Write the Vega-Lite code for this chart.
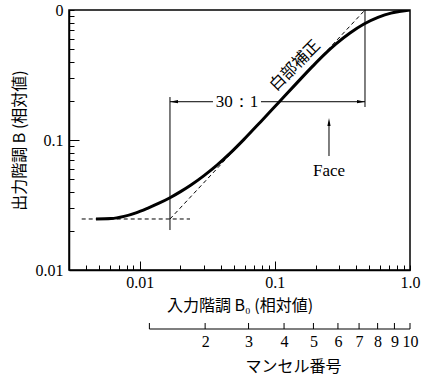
{
  "$schema": "https://vega.github.io/schema/vega-lite/v6.json",
  "padding": {"left": 10, "top": 1, "right": 5, "bottom": 3},
  "background": "white",
  "spacing": 49,
  "bounds": "flush",
  "config": {
    "font": "Liberation Serif",
    "axis": {"grid": false, "domainColor": "black", "tickColor": "black", "labelColor": "black", "titleColor": "black", "titleFontWeight": "normal"}
  },
  "datasets": {
    "curve": [
      {"x": 0.004751, "y": 0.024683},
      {"x": 0.006135, "y": 0.02486},
      {"x": 0.007656, "y": 0.025848},
      {"x": 0.009393, "y": 0.027542},
      {"x": 0.011525, "y": 0.02998},
      {"x": 0.013897, "y": 0.032643},
      {"x": 0.016758, "y": 0.035986},
      {"x": 0.02021, "y": 0.040237},
      {"x": 0.023968, "y": 0.045057},
      {"x": 0.029913, "y": 0.053226},
      {"x": 0.037328, "y": 0.064101},
      {"x": 0.047378, "y": 0.080278},
      {"x": 0.059124, "y": 0.10106},
      {"x": 0.078997, "y": 0.13899},
      {"x": 0.10553, "y": 0.19192},
      {"x": 0.14339, "y": 0.27013},
      {"x": 0.19157, "y": 0.37154},
      {"x": 0.23497, "y": 0.45951},
      {"x": 0.28355, "y": 0.54854},
      {"x": 0.35981, "y": 0.66527},
      {"x": 0.45666, "y": 0.78027},
      {"x": 0.57986, "y": 0.87701},
      {"x": 0.72344, "y": 0.94661},
      {"x": 0.85789, "y": 0.97904},
      {"x": 1.0, "y": 1.0}
    ],
    "dashes": [
      {"seg": "flat", "x": 0.003724, "y": 0.024683},
      {"seg": "flat", "x": 0.02357, "y": 0.024683},
      {"seg": "slope", "x": 0.016758, "y": 0.024683},
      {"seg": "slope", "x": 0.4645, "y": 1.0}
    ],
    "vlines": [
      {"x": 0.016758, "y": 0.0203, "y2": 0.214},
      {"x": 0.4645, "y": 0.1794, "y2": 1.0},
      {"x": 0.2516, "y": 0.0753, "y2": 0.136}
    ],
    "hlines": [
      {"x": 0.016758, "x2": 0.03487, "y": 0.197},
      {"x": 0.079, "x2": 0.4645, "y": 0.197}
    ],
    "arrows": [
      {"dir": "left", "x": 0.01794, "y": 0.197},
      {"dir": "right", "x": 0.434, "y": 0.197},
      {"dir": "up", "x": 0.2516, "y": 0.1376}
    ],
    "labels": [
      {"x": 0.05248, "y": 0.197, "text": "30：1"},
      {"x": 0.2516, "y": 0.0577, "text": "Face"}
    ],
    "diag": [
      {"x": 0.141, "y": 0.374, "text": "白部補正"}
    ],
    "munsell": [
      {"v": 1, "r": 0.0118},
      {"v": 2, "r": 0.0305},
      {"v": 3, "r": 0.0639},
      {"v": 4, "r": 0.117},
      {"v": 5, "r": 0.193},
      {"v": 6, "r": 0.293},
      {"v": 7, "r": 0.42},
      {"v": 8, "r": 0.576},
      {"v": 9, "r": 0.767},
      {"v": 10, "r": 1.0}
    ],
    "mline": [
      {"r0": 0.0118, "r1": 1.0}
    ]
  },
  "vconcat": [
    {
      "width": 341,
      "height": 260,
      "view": {"stroke": "black", "strokeWidth": 1.5},
      "resolve": {"axis": {"x": "independent", "y": "independent"}},
      "layer": [
        {
          "data": {"name": "curve"},
          "mark": {"type": "line", "color": "black", "strokeWidth": 3, "interpolate": "monotone", "clip": true},
          "encoding": {
            "x": {"field": "x", "type": "quantitative",
              "scale": {"type": "log", "domain": [0.003, 1], "nice": false},
              "axis": {
                "orient": "bottom",
                "values": [0.004, 0.005, 0.006, 0.007, 0.008, 0.009, 0.01, 0.02, 0.03, 0.04, 0.05, 0.06, 0.07, 0.08, 0.09, 0.1, 0.2, 0.3, 0.4, 0.5, 0.6, 0.7, 0.8, 0.9, 1],
                "labelExpr": "datum.value == 1 ? '1.0' : datum.value == 0.1 ? '0.1' : datum.value == 0.01 ? '0.01' : ''",
                "tickSize": -5, "tickWidth": 1, "labelPadding": 9, "labelFontSize": 16, "labelFont": "Liberation Serif",
                "labelFlush": false, "labelOverlap": false, "domainWidth": 1.5,
                "title": "入力階調  B₀ (相対値)", "titleFont": "Noto Sans CJK JP", "titleFontSize": 16, "titlePadding": 7
              }},
            "y": {"field": "y", "type": "quantitative",
              "scale": {"type": "log", "domain": [0.01, 1], "nice": false},
              "axis": {
                "orient": "left",
                "values": [0.01, 0.02, 0.03, 0.04, 0.05, 0.06, 0.07, 0.08, 0.09, 0.1, 0.2, 0.3, 0.4, 0.5, 0.6, 0.7, 0.8, 0.9, 1],
                "labelExpr": "datum.value == 1 ? '0' : datum.value == 0.1 ? '0.1' : datum.value == 0.01 ? '0.01' : ''",
                "tickSize": -5, "tickWidth": 1, "labelPadding": 11, "labelFontSize": 16, "labelFont": "Liberation Serif",
                "labelFlush": false, "labelOverlap": false, "domainWidth": 1.5,
                "title": "出力階調  B (相対値)", "titleFont": "Noto Sans CJK JP", "titleFontSize": 16, "titlePadding": 8
              }}
          }
        },
        {
          "data": {"name": "dashes"},
          "mark": {"type": "line", "color": "black", "strokeWidth": 1, "strokeDash": [4, 3]},
          "encoding": {
            "x": {"field": "x", "type": "quantitative",
              "axis": {"orient": "bottom", "values": [0.01, 0.1], "tickSize": -9, "tickWidth": 1, "labels": false, "domain": false, "title": null}},
            "y": {"field": "y", "type": "quantitative",
              "axis": {"orient": "left", "values": [0.1], "tickSize": -10, "tickWidth": 1, "labels": false, "domain": false, "title": null}},
            "detail": {"field": "seg"}
          }
        },
        {
          "data": {"name": "vlines"},
          "mark": {"type": "rule", "color": "black", "strokeWidth": 1},
          "encoding": {
            "x": {"field": "x", "type": "quantitative", "axis": null},
            "y": {"field": "y", "type": "quantitative", "axis": null},
            "y2": {"field": "y2"}
          }
        },
        {
          "data": {"name": "hlines"},
          "mark": {"type": "rule", "color": "black", "strokeWidth": 1},
          "encoding": {
            "x": {"field": "x", "type": "quantitative", "axis": null},
            "x2": {"field": "x2"},
            "y": {"field": "y", "type": "quantitative", "axis": null}
          }
        },
        {
          "data": {"name": "arrows"},
          "transform": [{"filter": "datum.dir == 'left'"}],
          "mark": {"type": "point", "shape": "M-1,0L1,-0.4L1,0.4Z", "filled": true, "color": "black", "size": 64, "opacity": 1},
          "encoding": {
            "x": {"field": "x", "type": "quantitative", "axis": null},
            "y": {"field": "y", "type": "quantitative", "axis": null}
          }
        },
        {
          "data": {"name": "arrows"},
          "transform": [{"filter": "datum.dir == 'right'"}],
          "mark": {"type": "point", "shape": "M1,0L-1,-0.4L-1,0.4Z", "filled": true, "color": "black", "size": 64, "opacity": 1},
          "encoding": {
            "x": {"field": "x", "type": "quantitative", "axis": null},
            "y": {"field": "y", "type": "quantitative", "axis": null}
          }
        },
        {
          "data": {"name": "arrows"},
          "transform": [{"filter": "datum.dir == 'up'"}],
          "mark": {"type": "point", "shape": "M0,-1L-0.4,1L0.4,1Z", "filled": true, "color": "black", "size": 64, "opacity": 1},
          "encoding": {
            "x": {"field": "x", "type": "quantitative", "axis": null},
            "y": {"field": "y", "type": "quantitative", "axis": null}
          }
        },
        {
          "data": {"name": "labels"},
          "mark": {"type": "text", "color": "black", "font": "Liberation Serif", "fontSize": 17, "align": "center", "baseline": "middle"},
          "encoding": {
            "x": {"field": "x", "type": "quantitative", "axis": null},
            "y": {"field": "y", "type": "quantitative", "axis": null},
            "text": {"field": "text"}
          }
        },
        {
          "data": {"name": "diag"},
          "mark": {"type": "text", "color": "black", "font": "Noto Sans CJK JP", "fontSize": 16, "angle": -45, "align": "center", "baseline": "middle"},
          "encoding": {
            "x": {"field": "x", "type": "quantitative", "axis": null},
            "y": {"field": "y", "type": "quantitative", "axis": null},
            "text": {"field": "text"}
          }
        }
      ]
    },
    {
      "width": 341,
      "height": 10,
      "view": {"stroke": null},
      "layer": [
        {
          "data": {"name": "munsell"},
          "mark": {"type": "rule", "color": "black", "strokeWidth": 1},
          "encoding": {
            "x": {"field": "r", "type": "quantitative",
              "scale": {"type": "log", "domain": [0.003, 1], "nice": false},
              "axis": {
                "values": [0.0118, 0.0305, 0.0639, 0.117, 0.193, 0.293, 0.42, 0.576, 0.767, 1.0],
                "labelExpr": "datum.value < 0.02 ? '' : datum.value < 0.05 ? '2' : datum.value < 0.09 ? '3' : datum.value < 0.15 ? '4' : datum.value < 0.25 ? '5' : datum.value < 0.35 ? '6' : datum.value < 0.5 ? '7' : datum.value < 0.68 ? '8' : datum.value < 0.9 ? '9' : '10'",
                "domain": false, "ticks": false, "labelPadding": 4, "labelFontSize": 16, "labelFont": "Liberation Serif",
                "labelFlush": false, "labelOverlap": false,
                "title": "マンセル番号", "titleFont": "Noto Sans CJK JP", "titleFontSize": 16, "titlePadding": 9, "titleX": 224
              }},
            "y": {"datum": 0, "type": "quantitative", "scale": {"domain": [0, 1]}, "axis": null},
            "y2": {"datum": 0.6}
          }
        },
        {
          "data": {"name": "mline"},
          "mark": {"type": "rule", "color": "black", "strokeWidth": 1.2},
          "encoding": {
            "x": {"field": "r0", "type": "quantitative"},
            "x2": {"field": "r1"},
            "y": {"datum": 0, "type": "quantitative"}
          }
        }
      ]
    }
  ]
}
